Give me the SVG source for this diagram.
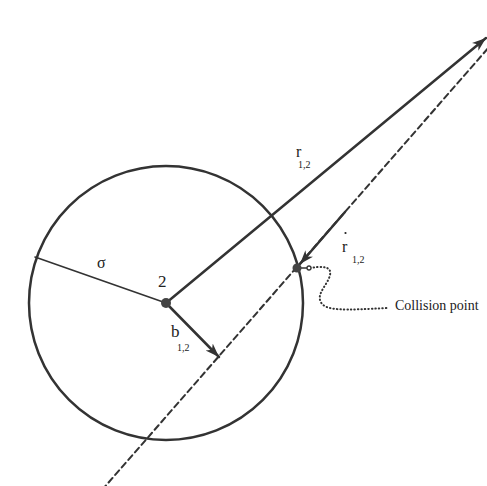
<svg xmlns="http://www.w3.org/2000/svg" width="487" height="486" viewBox="0 0 487 486">
<style>
.ln{stroke:#333;fill:none;stroke-linecap:round}
.t{font-family:"Liberation Serif","DejaVu Serif",serif;fill:#222}
.sub{font-family:"Liberation Serif","DejaVu Serif",serif;fill:#222;font-size:10px}
</style>
<defs>
<marker id="ah" markerUnits="userSpaceOnUse" markerWidth="16" markerHeight="12" refX="14" refY="5" orient="auto" viewBox="0 0 16 10">
<path d="M0,0 L14,5 L0,10 L4,5 Z" fill="#333"/>
</marker>
</defs>
<rect width="487" height="486" fill="#fff"/>
<g id="circle">
<circle cx="166" cy="303" r="137" class="ln" stroke-width="2.5"/>
</g>
<g id="connectors">
<line id="dashed" x1="102" y1="490" x2="490" y2="46" class="ln" stroke-width="2" stroke-dasharray="6,4" stroke-linecap="butt"/>
<line id="sigma-line" x1="35" y1="257" x2="166" y2="303" class="ln" stroke-width="1.6"/>
<line id="r12" x1="166" y1="303" x2="486" y2="38" class="ln" stroke-width="2.5" marker-end="url(#ah)"/>
<line id="b12" x1="166" y1="303" x2="219" y2="357" class="ln" stroke-width="2.5" marker-end="url(#ah)"/>
<line id="rdot12" x1="345" y1="212" x2="300" y2="264" class="ln" stroke-width="2.5" marker-end="url(#ah)"/>
<path id="pointer" d="M310,268 C322,266 332,266 330,275 C328,284 318,292 320,300 C323,312 345,310 388,308" class="ln" stroke-width="2" stroke-dasharray="0.5,3"/>
<line x1="297" y1="268" x2="307" y2="268" class="ln" stroke-width="1.5"/>
<circle cx="309" cy="268" r="2" fill="#fff" stroke="#333" stroke-width="1.3"/>
</g>
<g id="node-2">
<circle cx="166" cy="303" r="5" fill="#444"/>
<text x="158" y="287" class="t" font-size="17">2</text>
</g>
<g id="collision">
<circle cx="297" cy="268" r="4.5" fill="#444"/>
<text x="395" y="310" class="t" font-size="14">Collision point</text>
</g>
<g id="labels">
<text x="97" y="268" class="t" font-size="16">σ</text>
<text x="296" y="157" class="t" font-size="16">r</text>
<text x="298" y="168" class="sub">1,2</text>
<text x="342" y="252" class="t" font-size="16">r</text>
<circle cx="345.5" cy="233" r="1.1" fill="#222"/>
<text x="352" y="263" class="sub">1,2</text>
<text x="171" y="337" class="t" font-size="17">b</text>
<text x="177" y="351" class="sub">1,2</text>
</g>
</svg>
